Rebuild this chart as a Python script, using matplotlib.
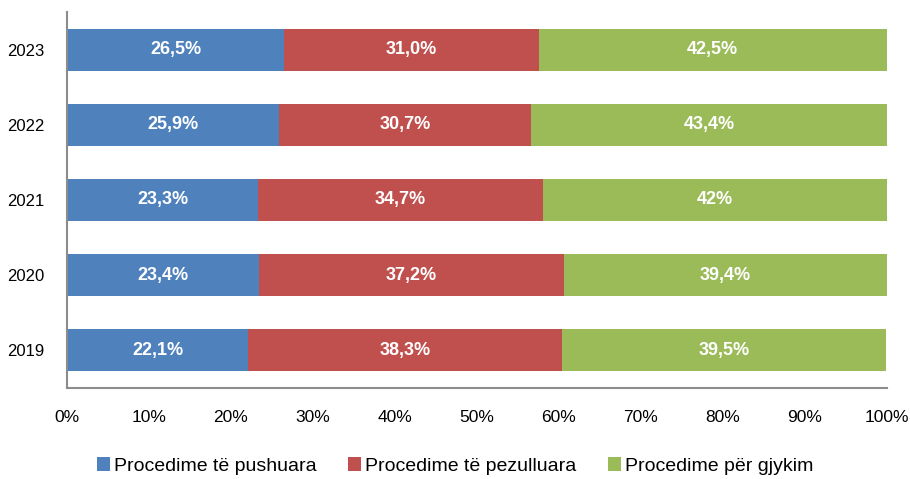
import matplotlib
matplotlib.use("Agg")
import matplotlib.pyplot as plt
from matplotlib import font_manager as fm

names = sorted({f.name for f in fm.fontManager.ttflist})
narrow = 'Liberation Sans Narrow' if 'Liberation Sans Narrow' in names else 'Liberation Sans'
plt.rcParams['font.family'] = [narrow, 'DejaVu Sans']

years = ["2019", "2020", "2021", "2022", "2023"]
pushuara = [22.1, 23.4, 23.3, 25.9, 26.5]
pezulluara = [38.3, 37.2, 34.7, 30.7, 31.0]
gjykim = [39.5, 39.4, 42.0, 43.4, 42.5]
labels_pushuara = ["22,1%", "23,4%", "23,3%", "25,9%", "26,5%"]
labels_pezulluara = ["38,3%", "37,2%", "34,7%", "30,7%", "31,0%"]
labels_gjykim = ["39,5%", "39,4%", "42%", "43,4%", "42,5%"]
series_names = ["Procedime të pushuara", "Procedime të pezulluara", "Procedime për gjykim"]
colors = ["#4F81BD", "#C0504D", "#9BBB59"]
xticks = [0, 10, 20, 30, 40, 50, 60, 70, 80, 90, 100]

fig = plt.figure(figsize=(9.1, 4.79), dpi=100)
ax = fig.add_axes([67/910, 1-388/479, (887-67)/910, (388-12)/479])

ypos = list(range(len(years)))
left = [0]*len(years)
for vals, labs, c, name in zip([pushuara, pezulluara, gjykim],
                               [labels_pushuara, labels_pezulluara, labels_gjykim],
                               colors, series_names):
    bars = ax.barh(ypos, vals, left=left, height=0.56, color=c, label=name)
    ax.bar_label(bars, labels=labs, label_type='center', color='white',
                 fontsize=13, fontweight='bold')
    left = [l+v for l, v in zip(left, vals)]

ax.set_xlim(0, 100)
ax.set_ylim(-0.5, 4.5)
ax.set_yticks(ypos)
ax.set_yticklabels(years, fontsize=12)
ax.set_xticks(xticks)
ax.set_xticklabels([f"{t}%" for t in xticks], fontsize=12.5)
ax.tick_params(axis='both', length=0)
ax.tick_params(axis='x', pad=16)
ax.tick_params(axis='y', pad=16)
for s in ['top', 'right']:
    ax.spines[s].set_visible(False)
for s in ['left', 'bottom']:
    ax.spines[s].set_color('#8C8C8C')
    ax.spines[s].set_linewidth(1.5)

fig.legend(loc='center', bbox_to_anchor=(0.5, 1-466/479), ncol=3, frameon=False,
           fontsize=14, handlelength=0.7, handleheight=0.7, handletextpad=0.2,
           columnspacing=1.6, borderpad=0)

fig.savefig("out.png", dpi=100)
